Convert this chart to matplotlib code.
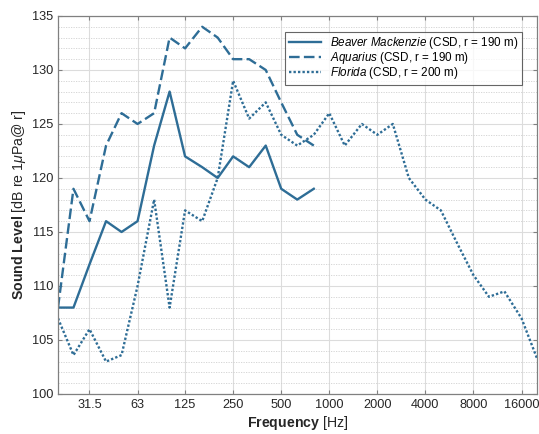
import matplotlib
matplotlib.use("Agg")
import matplotlib.pyplot as plt
from matplotlib.ticker import FixedLocator, NullLocator, MultipleLocator

plt.rcParams['font.family'] = ['Liberation Sans', 'DejaVu Sans']
plt.rcParams['mathtext.fontset'] = 'custom'
plt.rcParams['mathtext.it'] = 'Liberation Sans:italic'
plt.rcParams['mathtext.rm'] = 'Liberation Sans'
plt.rcParams['mathtext.bf'] = 'Liberation Sans:bold'

# One-third octave band centre frequencies (Hz)
freq = [20, 25, 31.5, 40, 50, 63, 80, 100, 125, 160, 200, 250, 315, 400,
        500, 630, 800, 1000, 1250, 1600, 2000, 2500, 3150, 4000, 5000,
        6300, 8000, 10000, 12500, 16000, 20000]

beaver_mackenzie = [108, 108, 112, 116, 115, 116, 123, 128, 122, 121, 120,
                    122, 121, 123, 119, 118, 119]
aquarius = [108, 119, 116, 123, 126, 125, 126, 133, 132, 134, 133, 131,
            131, 130, 127, 124, 123]
florida = [107, 103.6, 106, 103, 103.6, 110, 118, 108, 117, 116, 120, 129,
           125.5, 127, 124, 123, 124, 126, 123, 125, 124, 125, 120, 118,
           117, 114, 111, 109, 109.5, 107, 103.3]

xticks = [31.5, 63, 125, 250, 500, 1000, 2000, 4000, 8000, 16000]
xtick_labels = ['31.5', '63', '125', '250', '500', '1000', '2000', '4000',
                '8000', '16000']

color = '#2E6D96'

fig = plt.figure(figsize=(5.39, 4.34), dpi=100)
ax = fig.add_axes([0.1076, 0.0922, 0.8887, 0.8710])

ax.plot(freq[:len(beaver_mackenzie)], beaver_mackenzie, color=color,
        lw=1.7, ls='-',
        label=r'$\mathit{Beaver\ Mackenzie}$ (CSD, r = 190 m)')
ax.plot(freq[:len(aquarius)], aquarius, color=color, lw=1.7,
        ls=(0, (4.5, 1.8)),
        label=r'$\mathit{Aquarius}$ (CSD, r = 190 m)')
ax.plot(freq, florida, color=color, lw=1.7, ls=(0, (1, 0.9)),
        label=r'$\mathit{Florida}$ (CSD, r = 200 m)')

ax.set_xscale('log')
ax.set_xlim(20, 20000)
ax.set_ylim(100, 135)
ax.xaxis.set_major_locator(FixedLocator(xticks))
ax.xaxis.set_minor_locator(NullLocator())
ax.set_xticklabels(xtick_labels)
ax.yaxis.set_major_locator(MultipleLocator(5))
ax.yaxis.set_minor_locator(MultipleLocator(1))

ax.grid(True, which='major', color='#dcdcdc', lw=0.8)
ax.grid(True, which='minor', axis='y', color='#d0d0d0', lw=0.6,
        ls=(0, (1.5, 1.5)))
ax.set_axisbelow(True)

for s in ax.spines.values():
    s.set_color('#808080')
    s.set_linewidth(0.9)

ax.tick_params(which='both', direction='in', top=True, right=True,
               colors='#808080', labelcolor='#262626', labelsize=9.2,
               length=3)
ax.tick_params(which='minor', length=0)

ax.set_xlabel(r'$\mathbf{Frequency}$ [Hz]', fontsize=10.2, color='#262626',
              labelpad=2.5)
ax.set_ylabel(r'$\mathbf{Sound\ Level}$ [dB re 1$\mu$Pa@ r]', fontsize=10.2,
              color='#262626', labelpad=3)

leg = ax.legend(loc='upper right', bbox_to_anchor=(0.969, 0.958),
                fontsize=8.4, frameon=True, fancybox=False,
                edgecolor='#404040', handlelength=2.75, handletextpad=0.8,
                borderaxespad=0, labelspacing=-0.1, borderpad=0.3)
leg.get_frame().set_linewidth(0.8)

fig.savefig('out.png', dpi=100)
